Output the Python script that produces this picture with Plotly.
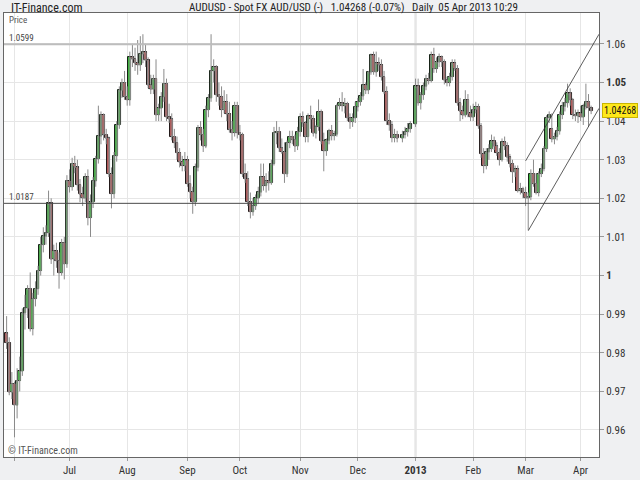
import pandas as pd
import plotly.graph_objects as go

# daily AUD/USD candles, 29 May 2012 - 05 Apr 2013 (weekdays, no Dec 25 / Jan 1)
holidays = ["2012-12-25", "2013-01-01"]
dates = [d for d in pd.bdate_range("2012-05-29", "2013-04-05")
         if d.strftime("%Y-%m-%d") not in holidays]

opens = [
    # May / Jun 2012
    0.9850, 0.9826, 0.9698, 0.9720, 0.9664, 0.9728, 0.9752, 0.9903, 0.9915, 0.9966,
    0.9862, 0.9940, 0.9966, 1.0013, 1.0080, 1.0102, 1.0110, 1.0187, 1.0042, 1.0063,
    1.0038, 1.0007, 1.0085, 1.0030,
    # Jul
    1.0245, 1.0230, 1.0290, 1.0280, 1.0235, 1.0210, 1.0200, 1.0255, 1.0150, 1.0190,
    1.0245, 1.0302, 1.0361, 1.0416, 1.0365, 1.0355, 1.0263, 1.0212, 1.0310, 1.0390,
    1.0480, 1.0500,
    # Aug
    1.0463, 1.0455, 1.0565, 1.0560, 1.0550, 1.0545, 1.0574, 1.0578, 1.0557, 1.0493,
    1.0482, 1.0510, 1.0416, 1.0433, 1.0463, 1.0497, 1.0410, 1.0405, 1.0360, 1.0344,
    1.0318, 1.0293, 1.0285,
    # Sep
    1.0298, 1.0238, 1.0216, 1.0190, 1.0280, 1.0382, 1.0365, 1.0335, 1.0429, 1.0460,
    1.0530, 1.0540, 1.0468, 1.0463, 1.0430, 1.0450, 1.0418, 1.0378, 1.0370, 1.0440,
    # Oct
    1.0370, 1.0365, 1.0263, 1.0250, 1.0190, 1.0165, 1.0180, 1.0200, 1.0216, 1.0255,
    1.0233, 1.0245, 1.0240, 1.0290, 1.0370, 1.0373, 1.0330, 1.0320, 1.0263, 1.0344,
    1.0360, 1.0352, 1.0335,
    # Nov
    1.0373, 1.0410, 1.0395, 1.0360, 1.0412, 1.0405, 1.0368, 1.0385, 1.0424, 1.0348,
    1.0323, 1.0350, 1.0375, 1.0362, 1.0366, 1.0440, 1.0447, 1.0440, 1.0445, 1.0408,
    1.0398, 1.0408,
    # Dec
    1.0437, 1.0450, 1.0465, 1.0493, 1.0480, 1.0527, 1.0570, 1.0527, 1.0550, 1.0545,
    1.0514, 1.0476, 1.0400, 1.0390, 1.0357, 1.0365, 1.0355, 1.0365, 1.0372, 1.0380,
    # Jan 2013
    1.0392, 1.0490, 1.0447, 1.0468, 1.0490, 1.0510, 1.0505, 1.0570, 1.0536, 1.0553,
    1.0566, 1.0553, 1.0506, 1.0500, 1.0515, 1.0550, 1.0536, 1.0447, 1.0425, 1.0415,
    1.0455, 1.0420,
    # Feb
    1.0410, 1.0430, 1.0437, 1.0387, 1.0315, 1.0285, 1.0320, 1.0328, 1.0348, 1.0335,
    1.0318, 1.0300, 1.0345, 1.0335, 1.0306, 1.0290, 1.0268, 1.0275, 1.0220, 1.0225,
    # Mar
    1.0213, 1.0200, 1.0204, 1.0264, 1.0238, 1.0215, 1.0264, 1.0277, 1.0328, 1.0409,
    1.0380, 1.0353, 1.0360, 1.0374, 1.0417, 1.0438, 1.0447, 1.0472, 1.0455, 1.0417,
    1.0413,
    # Apr
    1.0420, 1.0410, 1.0438, 1.0450, 1.0434,
]

highs = [
    0.9895, 0.9840, 0.9750, 0.9725, 0.9760, 0.9790, 0.9915, 0.9950, 0.9975, 1.0008,
    0.9955, 0.9985, 1.0025, 1.0100, 1.0125, 1.0130, 1.0220, 1.0200, 1.0080, 1.0085,
    1.0060, 1.0095, 1.0100, 1.0260,
    1.0275, 1.0305, 1.0310, 1.0300, 1.0250, 1.0230, 1.0265, 1.0275, 1.0210, 1.0255,
    1.0310, 1.0440, 1.0425, 1.0420, 1.0380, 1.0360, 1.0280, 1.0320, 1.0400, 1.0490,
    1.0510, 1.0530,
    1.0490, 1.0580, 1.0600, 1.0590, 1.0610, 1.0620, 1.0625, 1.0600, 1.0565, 1.0520,
    1.0520, 1.0560, 1.0445, 1.0475, 1.0535, 1.0510, 1.0445, 1.0420, 1.0380, 1.0360,
    1.0330, 1.0310, 1.0320,
    1.0310, 1.0260, 1.0230, 1.0290, 1.0390, 1.0400, 1.0380, 1.0440, 1.0470, 1.0625,
    1.0560, 1.0545, 1.0500, 1.0490, 1.0480, 1.0470, 1.0450, 1.0400, 1.0450, 1.0450,
    1.0390, 1.0370, 1.0290, 1.0270, 1.0215, 1.0200, 1.0210, 1.0230, 1.0290, 1.0290,
    1.0265, 1.0270, 1.0300, 1.0385, 1.0400, 1.0385, 1.0355, 1.0345, 1.0350, 1.0375,
    1.0375, 1.0365, 1.0385,
    1.0420, 1.0425, 1.0400, 1.0420, 1.0440, 1.0415, 1.0390, 1.0456, 1.0430, 1.0370,
    1.0355, 1.0380, 1.0390, 1.0375, 1.0445, 1.0460, 1.0475, 1.0460, 1.0450, 1.0420,
    1.0420, 1.0450,
    1.0460, 1.0475, 1.0535, 1.0500, 1.0530, 1.0575, 1.0580, 1.0580, 1.0565, 1.0560,
    1.0530, 1.0490, 1.0420, 1.0400, 1.0380, 1.0375, 1.0375, 1.0385, 1.0395, 1.0400,
    1.0510, 1.0510, 1.0475, 1.0500, 1.0520, 1.0525, 1.0580, 1.0590, 1.0565, 1.0575,
    1.0570, 1.0560, 1.0515, 1.0525, 1.0560, 1.0560, 1.0545, 1.0460, 1.0440, 1.0480,
    1.0470, 1.0440,
    1.0445, 1.0450, 1.0445, 1.0395, 1.0330, 1.0330, 1.0340, 1.0365, 1.0360, 1.0345,
    1.0330, 1.0355, 1.0360, 1.0345, 1.0315, 1.0300, 1.0285, 1.0285, 1.0240, 1.0230,
    1.0230, 1.0215, 1.0275, 1.0300, 1.0265, 1.0270, 1.0290, 1.0335, 1.0415, 1.0425,
    1.0420, 1.0370, 1.0385, 1.0425, 1.0450, 1.0460, 1.0497, 1.0485, 1.0460, 1.0430,
    1.0430,
    1.0440, 1.0445, 1.0497, 1.0470, 1.0440,
]

lows = [
    0.9810, 0.9690, 0.9680, 0.9581, 0.9630, 0.9700, 0.9740, 0.9860, 0.9890, 0.9855,
    0.9845, 0.9920, 0.9950, 1.0000, 1.0060, 1.0080, 1.0100, 1.0030, 1.0000, 1.0020,
    0.9966, 1.0000, 0.9990, 1.0020,
    1.0215, 1.0220, 1.0265, 1.0220, 1.0190, 1.0180, 1.0190, 1.0130, 1.0100, 1.0175,
    1.0230, 1.0290, 1.0340, 1.0350, 1.0340, 1.0255, 1.0174, 1.0200, 1.0295, 1.0380,
    1.0460, 1.0455,
    1.0440, 1.0440, 1.0540, 1.0530, 1.0520, 1.0530, 1.0550, 1.0540, 1.0485, 1.0470,
    1.0470, 1.0400, 1.0400, 1.0400, 1.0450, 1.0400, 1.0395, 1.0350, 1.0330, 1.0300,
    1.0280, 1.0270, 1.0270,
    1.0230, 1.0200, 1.0160, 1.0180, 1.0270, 1.0350, 1.0320, 1.0330, 1.0410, 1.0450,
    1.0500, 1.0450, 1.0440, 1.0410, 1.0420, 1.0400, 1.0370, 1.0350, 1.0360, 1.0355,
    1.0350, 1.0255, 1.0240, 1.0180, 1.0148, 1.0155, 1.0170, 1.0185, 1.0205, 1.0220,
    1.0215, 1.0220, 1.0235, 1.0285, 1.0340, 1.0320, 1.0315, 1.0240, 1.0255, 1.0330,
    1.0340, 1.0320, 1.0325,
    1.0360, 1.0385, 1.0345, 1.0345, 1.0380, 1.0360, 1.0355, 1.0375, 1.0340, 1.0270,
    1.0310, 1.0340, 1.0350, 1.0350, 1.0360, 1.0430, 1.0425, 1.0420, 1.0400, 1.0380,
    1.0385, 1.0395,
    1.0425, 1.0440, 1.0455, 1.0470, 1.0470, 1.0520, 1.0520, 1.0515, 1.0530, 1.0505,
    1.0470, 1.0390, 1.0375, 1.0345, 1.0345, 1.0345, 1.0345, 1.0355, 1.0360, 1.0370,
    1.0385, 1.0440, 1.0430, 1.0455, 1.0480, 1.0495, 1.0500, 1.0525, 1.0525, 1.0540,
    1.0540, 1.0495, 1.0490, 1.0490, 1.0505, 1.0530, 1.0440, 1.0400, 1.0405, 1.0410,
    1.0410, 1.0400,
    1.0400, 1.0420, 1.0380, 1.0305, 1.0265, 1.0275, 1.0300, 1.0320, 1.0325, 1.0310,
    1.0285, 1.0295, 1.0325, 1.0295, 1.0280, 1.0240, 1.0255, 1.0215, 1.0210, 1.0200,
    1.0180, 1.0118, 1.0195, 1.0230, 1.0210, 1.0205, 1.0255, 1.0270, 1.0320, 1.0395,
    1.0345, 1.0340, 1.0350, 1.0365, 1.0405, 1.0425, 1.0435, 1.0440, 1.0405, 1.0400,
    1.0395,
    1.0400, 1.0390, 1.0430, 1.0385, 1.0418,
]

closes = [
    0.9826, 0.9698, 0.9720, 0.9664, 0.9728, 0.9752, 0.9903, 0.9915, 0.9966, 0.9862,
    0.9940, 0.9966, 1.0013, 1.0080, 1.0102, 1.0110, 1.0187, 1.0042, 1.0063, 1.0038,
    1.0007, 1.0085, 1.0030, 1.0245,
    1.0230, 1.0290, 1.0280, 1.0235, 1.0210, 1.0200, 1.0255, 1.0150, 1.0190, 1.0245,
    1.0302, 1.0361, 1.0416, 1.0365, 1.0355, 1.0263, 1.0212, 1.0310, 1.0390, 1.0480,
    1.0500, 1.0463,
    1.0455, 1.0565, 1.0560, 1.0550, 1.0545, 1.0574, 1.0578, 1.0557, 1.0493, 1.0482,
    1.0510, 1.0416, 1.0433, 1.0463, 1.0497, 1.0410, 1.0405, 1.0360, 1.0344, 1.0318,
    1.0293, 1.0285, 1.0298,
    1.0238, 1.0216, 1.0190, 1.0280, 1.0382, 1.0365, 1.0335, 1.0429, 1.0460, 1.0530,
    1.0540, 1.0468, 1.0463, 1.0430, 1.0450, 1.0418, 1.0378, 1.0370, 1.0440, 1.0370,
    1.0365, 1.0263, 1.0250, 1.0190, 1.0165, 1.0180, 1.0200, 1.0216, 1.0255, 1.0233,
    1.0245, 1.0240, 1.0290, 1.0370, 1.0373, 1.0330, 1.0320, 1.0263, 1.0344, 1.0360,
    1.0352, 1.0335, 1.0373,
    1.0410, 1.0395, 1.0360, 1.0412, 1.0405, 1.0368, 1.0385, 1.0424, 1.0348, 1.0323,
    1.0350, 1.0375, 1.0362, 1.0366, 1.0440, 1.0447, 1.0440, 1.0445, 1.0408, 1.0398,
    1.0408, 1.0437,
    1.0450, 1.0465, 1.0493, 1.0480, 1.0527, 1.0570, 1.0527, 1.0550, 1.0545, 1.0514,
    1.0476, 1.0400, 1.0390, 1.0357, 1.0365, 1.0355, 1.0365, 1.0372, 1.0380, 1.0392,
    1.0490, 1.0447, 1.0468, 1.0490, 1.0510, 1.0505, 1.0570, 1.0536, 1.0553, 1.0566,
    1.0553, 1.0506, 1.0500, 1.0515, 1.0550, 1.0536, 1.0447, 1.0425, 1.0415, 1.0455,
    1.0420, 1.0410,
    1.0430, 1.0437, 1.0387, 1.0315, 1.0285, 1.0320, 1.0328, 1.0348, 1.0335, 1.0318,
    1.0300, 1.0345, 1.0335, 1.0306, 1.0290, 1.0268, 1.0275, 1.0220, 1.0225, 1.0213,
    1.0200, 1.0204, 1.0264, 1.0238, 1.0215, 1.0264, 1.0277, 1.0328, 1.0409, 1.0417,
    1.0353, 1.0360, 1.0374, 1.0417, 1.0438, 1.0447, 1.0472, 1.0455, 1.0417, 1.0413,
    1.0420,
    1.0410, 1.0438, 1.0450, 1.0434, 1.04268,
]

# axis ticks
y_ticks = [0.96, 0.97, 0.98, 0.99, 1.00, 1.01, 1.02, 1.03, 1.04, 1.05, 1.06]
y_labels = ["0.96", "0.97", "0.98", "0.99", "<b>1</b>", "1.01", "1.02", "1.03",
            "1.04", "<b>1.05</b>", "1.06"]
tick_months = ["2012-06", "2012-07", "2012-08", "2012-09", "2012-10", "2012-11",
               "2012-12", "2013-01", "2013-02", "2013-03", "2013-04"]
tick_labels = ["", "Jul", "Aug", "Sep", "Oct", "Nov", "Dec", "<b>2013</b>",
               "Feb", "Mar", "Apr"]

# drawn levels and the rising channel
level_high = 1.0599
level_low = 1.0187
channel_upper = [("2013-03-01 12:00", 1.0297), ("2013-04-10 12:00", 1.0625)]
channel_lower = [("2013-03-04 12:00", 1.0116), ("2013-04-10 12:00", 1.0433)]

# candles sit in the middle of their trading day
xs = [d + pd.Timedelta(hours=12) for d in dates]

month_first = {}
for x in xs:
    month_first.setdefault(x.strftime("%Y-%m"), x)
tick_vals = [month_first[m] for m in tick_months]

GREEN = "#1fcc1f"
RED = "#cc4444"
FONT = "Roboto Condensed, DejaVu Sans Condensed, Liberation Sans Narrow, Liberation Sans, Arial, sans-serif"
DAY_MS = 24 * 3600 * 1000

body_lo = [min(o, c) for o, c in zip(opens, closes)]
body_h = [max(abs(c - o), 0.00006) for o, c in zip(opens, closes)]
body_col = [GREEN if c >= o else RED for o, c in zip(opens, closes)]

fig = go.Figure()
# wicks (grey)
fig.add_trace(go.Candlestick(
    x=xs, open=opens, high=highs, low=lows, close=closes,
    increasing=dict(line=dict(color="#8a8a8a", width=1), fillcolor=GREEN),
    decreasing=dict(line=dict(color="#8a8a8a", width=1), fillcolor=RED),
    whiskerwidth=0, hoverinfo="skip", showlegend=False))
# bodies with black outline
fig.add_trace(go.Bar(
    x=xs, y=body_h, base=body_lo, width=1.05 * DAY_MS,
    marker=dict(color=body_col, line=dict(color="#000000", width=0.9)),
    hoverinfo="skip", showlegend=False))

# horizontal levels
fig.add_shape(type="line", xref="paper", x0=0, x1=1, y0=level_high, y1=level_high,
              line=dict(color="#bdbdbd", width=2), layer="above")
fig.add_shape(type="line", xref="paper", x0=0, x1=1, y0=level_low, y1=level_low,
              line=dict(color="#4a4a4a", width=1), layer="above")
# 2013 separator
fig.add_shape(type="line", x0=month_first["2013-01"], x1=month_first["2013-01"],
              yref="paper", y0=0, y1=1, line=dict(color="#b4b4b4", width=1.5), layer="below")
# channel
for (xa, ya), (xb, yb) in [channel_upper, channel_lower]:
    fig.add_shape(type="line", x0=xa, y0=ya, x1=xb, y1=yb,
                  line=dict(color="#333333", width=0.8), layer="above")

ann = [
    dict(text="IT-Finance.com", x=0.008, y=1.012, xanchor="left",
         font=dict(size=12, color="#222222")),
    dict(text="AUDUSD - Spot FX AUD/USD (-)&nbsp;&nbsp;&nbsp;1.04268 (-0.07%)&nbsp;&nbsp;&nbsp;Daily&nbsp; 05 Apr 2013 10:29",
         x=0.307, y=1.012, xanchor="left", font=dict(size=11, color="#222222")),
    dict(text="Price", x=0.005, y=0.985, xanchor="left", font=dict(size=9, color="#555555")),
    dict(text="1.0599", x=0.005, y=level_high, yref="y", yanchor="bottom", yshift=-1,
         xanchor="left", font=dict(size=9, color="#444444")),
    dict(text="1.0187", x=0.005, y=level_low, yref="y", yanchor="bottom", yshift=-1,
         xanchor="left", font=dict(size=9, color="#444444")),
    dict(text="© IT-Finance.com", x=0.003, y=0.015, xanchor="left",
         font=dict(size=10, color="#555555")),
    dict(text="%.5f" % closes[-1], x=1.005, y=closes[-1], yref="y", xanchor="left",
         bgcolor="#ffe81a", bordercolor="#c8b400", borderwidth=1, borderpad=1,
         font=dict(size=10, color="#111111")),
]
for a in ann:
    a.setdefault("xref", "paper")
    a.setdefault("yref", "paper")
    a.setdefault("yanchor", "middle")
    a["showarrow"] = False
    fig.add_annotation(**a)

fig.update_layout(
    width=640, height=480,
    margin=dict(l=3, r=41, t=13, b=16),
    paper_bgcolor="#eff0f2", plot_bgcolor="white",
    font=dict(family=FONT, size=11, color="#333333"),
    showlegend=False, bargap=0,
    xaxis=dict(
        type="date", range=["2012-05-28 12:00", "2013-04-10 12:00"],
        rangeslider=dict(visible=False),
        rangebreaks=[dict(bounds=["sat", "mon"])],
        tickvals=tick_vals, ticktext=tick_labels,
        ticks="outside", ticklen=3, tickcolor="#999999",
        showgrid=True, gridcolor="#e6e6e6", gridwidth=1,
        showline=True, linecolor="#666666", mirror=True,
        tickfont=dict(size=11, color="#333333"),
        fixedrange=True,
    ),
    yaxis=dict(
        side="right", range=[0.953, 1.068],
        tickvals=y_ticks, ticktext=y_labels,
        ticks="outside", ticklen=4, tickcolor="#999999",
        showgrid=True, gridcolor="#e6e6e6", gridwidth=1,
        showline=True, linecolor="#666666", mirror=True,
        zeroline=False, tickfont=dict(size=11, color="#333333"),
        fixedrange=True,
    ),
)

# the page has a default 8px body margin; drop it so the 640x480 figure fills the window
fig.write_html("out.html", config={"displayModeBar": False},
               post_script="document.body.style.margin='0';")
